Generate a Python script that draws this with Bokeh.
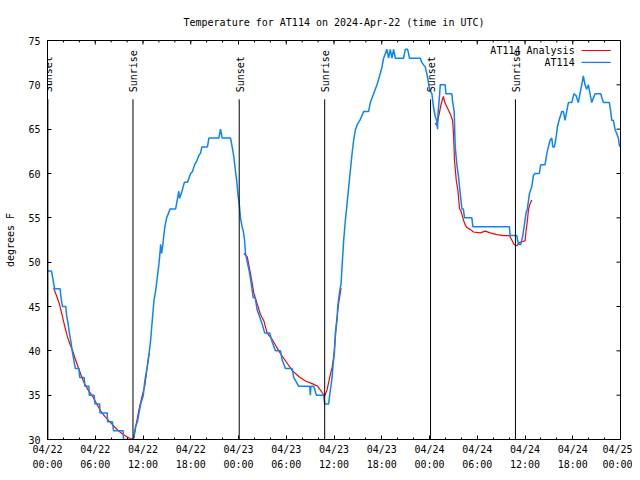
import math
from bokeh.plotting import figure
from bokeh.models import Range1d, FixedTicker, Label
from bokeh.embed import file_html
from bokeh.resources import INLINE

# ---------------- data ----------------
TITLE = "Temperature for AT114 on 2024-Apr-22 (time in UTC)"
Y_LABEL = "degrees F"
SERIES_NAMES = ["AT114 Analysis", "AT114"]

x_ticks = [0, 6, 12, 18, 24, 30, 36, 42, 48, 54, 60, 66, 72]
x_tick_labels = ["04/22\n00:00", "04/22\n06:00", "04/22\n12:00", "04/22\n18:00",
                 "04/23\n00:00", "04/23\n06:00", "04/23\n12:00", "04/23\n18:00",
                 "04/24\n00:00", "04/24\n06:00", "04/24\n12:00", "04/24\n18:00",
                 "04/25\n00:00"]
x_minor_ticks = [0, 2, 4, 6, 8, 10, 12, 14, 16, 18, 20, 22, 24, 26, 28, 30, 32, 34,
                 36, 38, 40, 42, 44, 46, 48, 50, 52, 54, 56, 58, 60, 62, 64, 66, 68, 70, 72]
y_ticks = [30, 35, 40, 45, 50, 55, 60, 65, 70, 75]

# observed AT114 (hours since 04/22 00:00 UTC, deg F)
obs_hours = [0.0, 0.5, 0.7, 0.9, 1.58, 1.7, 1.88, 2.3, 2.4, 2.6, 2.75, 2.95, 3.1, 3.3, 3.5, 3.95,
             4.05, 4.6, 4.7, 5.2, 5.25, 5.85, 5.97, 6.55, 6.6, 7.5, 7.55, 8.15, 8.3, 9.5, 9.55, 10.75,
             10.87, 11.08, 11.29, 11.5, 11.71, 12.04, 12.21, 12.55, 12.75, 12.96, 13.17, 13.38, 13.59,
             13.8, 14.0, 14.13, 14.22, 14.34, 14.42, 14.5, 14.55, 14.75, 14.97, 15.2, 15.39, 16.1,
             16.3, 16.5, 16.6, 16.72, 16.9, 17.2, 17.6, 17.98, 18.2, 18.5, 18.8, 19.0, 19.23, 19.4,
             20.1, 20.28, 21.53, 21.74, 21.95, 23.0, 23.2, 23.4, 23.6, 23.8, 23.95, 24.1, 24.25, 24.45,
             24.6, 24.76, 24.88, 25.1, 25.35, 25.6, 25.85, 26.1, 26.35, 26.6, 26.98, 27.3, 27.93,
             28.23, 28.64, 29.27, 29.48, 29.9, 30.74, 30.94, 31.57, 32.95, 33.03, 33.1, 33.45, 33.79,
             34.7, 34.83, 35.33, 35.46, 35.76, 35.88, 36.05, 36.17, 36.39, 36.47, 36.68, 36.89, 37.01,
             37.22, 37.43, 37.64, 37.85, 38.06, 38.27, 38.47, 38.68, 38.97, 39.31, 39.73, 40.35, 40.56,
             40.98, 41.4, 41.73, 42.03, 42.23, 42.65, 42.86, 43.07, 43.28, 43.49, 43.7, 44.74, 44.96,
             45.25, 45.5, 46.84, 47.05, 47.47, 47.68, 47.88, 48.0, 48.3, 48.5, 48.72, 48.9, 49.01,
             49.05, 49.26, 49.35, 49.97, 50.06, 50.81, 50.89, 51.1, 51.23, 51.44, 51.65, 51.86, 52.07,
             52.25, 52.4, 53.32, 53.45, 58.04, 58.13, 58.97, 59.17, 59.47, 59.72, 59.89, 60.14, 60.3,
             60.56, 60.85, 61.06, 61.27, 61.81, 61.98, 62.52, 62.74, 62.94, 63.15, 63.36, 63.49, 63.69,
             63.9, 64.07, 64.28, 64.62, 64.82, 65.03, 65.24, 65.45, 65.87, 66.16, 66.41, 66.7, 66.91,
             67.13, 67.33, 67.54, 67.75, 67.96, 68.17, 68.38, 68.59, 68.8, 69.51, 69.84, 70.6, 70.77,
             70.9, 71.1, 71.31, 71.52, 71.73, 71.9]
obs_temps = [49, 49, 48, 47, 47, 46, 45, 45, 44, 43, 42, 41, 40, 39, 38, 38,
             37, 37, 36, 36, 35, 35, 34, 34, 33, 33, 32, 32, 31, 31, 30, 30,
             30.5, 31.5, 32, 33, 34, 35, 36.5, 38.3, 39.6, 41.2, 43.5, 45.7, 46.8,
             48.3, 49.8, 51, 52, 51, 51.5, 52, 52.5, 54, 55, 55.5, 56, 56,
             57, 58, 57.2, 57.5, 58, 59, 59, 60, 60.2, 61, 61.5, 62, 62.3, 63,
             63, 64, 64, 65, 64, 64, 63, 62, 60.4, 59, 57.5, 56.5, 55, 54,
             53.5, 52.5, 51, 50, 49, 47.6, 46, 46, 44.6, 44, 43, 42, 42,
             41, 40, 40, 39, 38, 38, 37, 36, 36, 35, 36, 36, 35,
             35, 34, 34, 35, 37, 38.4, 39.75, 42, 43.5, 45, 46.5, 47.6, 49.5,
             52.5, 54.75, 56.6, 58.5, 60.4, 62.25, 63.75, 64.9, 65.6, 66.1, 67, 67, 68,
             69, 70, 71, 72, 73, 74, 73, 74, 73, 74, 73, 73, 74,
             74, 73, 73, 72.5, 72, 71.2, 70.2, 69.5, 69, 67.5, 66.4, 66, 65,
             66.5, 68.8, 70, 70, 69, 69, 68.2, 67, 63, 61, 59.6, 57.75, 56,
             56, 55, 55, 54, 54, 53, 53, 52, 52, 53, 54, 55.6, 56,
             57.75, 58.5, 59.8, 60, 60, 61, 61, 62.25, 63, 63.75, 64, 63, 63,
             64, 65.25, 66, 67, 67, 66, 67, 68, 68, 69, 68.8, 68, 69,
             70, 71, 70, 69.5, 70, 69, 68, 68.5, 69, 69, 68, 68, 67,
             66, 66, 65, 64.5, 64, 63]

# AT114 analysis, three overnight segments
ana1_hours = [0.77, 1.1, 1.46, 1.76, 2.1, 2.5, 2.8, 3.13, 3.4, 3.76, 4.2, 4.6, 5.1, 5.64, 6.2, 6.69,
              7.2, 7.73, 8.25, 8.78, 9.3, 9.82, 10.2, 10.66, 10.87, 11.08, 11.5, 11.92, 12.21, 12.55,
              12.75, 12.88]
ana1_temps = [47.1, 46.3, 45.4, 44.3, 43.0, 41.6, 40.8, 40.1, 39.3, 38.4, 37.3, 36.4, 35.6, 34.9, 34.0,
              33.2, 32.6, 32.1, 31.6, 31.1, 30.7, 30.4, 30.2, 30.0, 30.2, 31.4, 33.4, 35.0, 36.0, 38.3,
              39.6, 39.7]
ana2_hours = [24.67, 25.1, 25.5, 25.93, 26.35, 26.76, 27.18, 27.6, 28.23, 28.86, 29.48, 30.11, 30.74,
              31.57, 32.41, 33.25, 33.96, 34.5, 34.83, 35.13, 35.46, 35.76, 35.96, 36.17, 36.3, 36.59,
              36.89]
ana2_temps = [51.0, 50.6, 48.75, 46.5, 45.3, 44.1, 43.4, 42.0, 41.3, 40.3, 39.4, 38.6, 37.8, 37.1, 36.6,
              36.3, 36.0, 35.3, 34.9, 35.6, 37.0, 38.1, 39.3, 41.4, 43.2, 45.4, 47.1]
ana3_hours = [48.72, 48.93, 49.14, 49.26, 49.43, 49.64, 49.76, 49.89, 50.19, 50.6, 50.89, 51.02, 51.14,
              51.36, 51.57, 51.77, 51.98, 52.27, 52.48, 52.7, 53.11, 53.53, 54.37, 55.0, 55.62, 56.46,
              57.3, 58.04, 58.34, 58.63, 58.97, 59.3, 59.6, 60.01, 60.14, 60.31, 60.43, 60.64, 60.85]
ana3_temps = [65.7, 65.4, 66.4, 66.9, 67.7, 68.4, 68.7, 68.1, 67.5, 66.75, 66.0, 64.5, 61.5, 59.25, 58.1,
              56.06, 55.7, 54.75, 54.2, 53.9, 53.7, 53.4, 53.3, 53.5, 53.3, 53.1, 53.0, 53.0, 52.5, 52.0,
              51.85, 52.2, 52.3, 52.4, 53.6, 54.75, 55.9, 56.6, 57.0]

event_hours = [0.05, 10.74, 24.09, 34.83, 48.13, 58.80]
event_names = ["Sunset", "Sunrise", "Sunset", "Sunrise", "Sunset", "Sunrise"]

# ---------------- style ----------------
FONT = "DejaVu Sans Mono"
FS = "10px"
RED = "#ff0000"
BLUE = "#0a84ff"
X0, X1 = 0, 72
Y0, Y1 = 30, 75
FRAME_W, FRAME_H = 573, 400
MAJ, MIN = 4, 2  # inward tick lengths in px

p = figure(width=632, height=472, output_backend="svg", toolbar_location=None,
           x_range=Range1d(X0, X1), y_range=Range1d(Y0, Y1),
           min_border_left=47, min_border_right=12, min_border_top=40, min_border_bottom=32)
p.title.text = TITLE
p.title.align = "center"
p.title.text_font = FONT
p.title.text_font_size = FS
p.title.text_font_style = "normal"
p.title.text_color = "black"
p.title.standoff = 25
p.grid.visible = False
p.outline_line_color = "black"
p.background_fill_color = "white"
p.border_fill_color = "white"

xt = FixedTicker(ticks=x_ticks, minor_ticks=x_minor_ticks)
yt = FixedTicker(ticks=y_ticks)

for ax in (p.xaxis[0], p.yaxis[0]):
    ax.axis_line_color = "black"
    ax.major_tick_line_color = "black"
    ax.major_tick_in = MAJ
    ax.major_tick_out = 0
    ax.major_label_text_font = FONT
    ax.major_label_text_font_size = FS
    ax.major_label_text_color = "black"

xa = p.xaxis[0]
xa.ticker = xt
xa.major_label_overrides = {t: l for t, l in zip(x_ticks, x_tick_labels)}
xa.minor_tick_line_color = "black"
xa.minor_tick_in = MIN
xa.minor_tick_out = 0
xa.major_label_standoff = 4
xa.major_label_text_line_height = 1.4

ya = p.yaxis[0]
ya.ticker = yt
ya.minor_tick_line_color = None
ya.major_label_standoff = 7
ya.axis_label = Y_LABEL
ya.axis_label_text_font = FONT
ya.axis_label_text_font_size = FS
ya.axis_label_text_font_style = "normal"
ya.axis_label_text_color = "black"
ya.axis_label_standoff = 9

# mirrored ticks on top and right edges (gnuplot style)
dy_maj = MAJ * (Y1 - Y0) / FRAME_H
dy_min = MIN * (Y1 - Y0) / FRAME_H
dx_maj = MAJ * (X1 - X0) / FRAME_W
p.segment(x0=x_minor_ticks, y0=[Y1] * len(x_minor_ticks), x1=x_minor_ticks,
          y1=[Y1 - dy_min] * len(x_minor_ticks), line_color="black", line_width=1)
p.segment(x0=x_ticks, y0=[Y1] * len(x_ticks), x1=x_ticks,
          y1=[Y1 - dy_maj] * len(x_ticks), line_color="black", line_width=1)
p.segment(x0=[X1] * len(y_ticks), y0=y_ticks, x1=[X1 - dx_maj] * len(y_ticks), y1=y_ticks,
          line_color="black", line_width=1)

# data
p.multi_line(xs=[ana1_hours, ana2_hours, ana3_hours], ys=[ana1_temps, ana2_temps, ana3_temps],
             line_color=RED, line_width=1.2)
p.line(obs_hours, obs_temps, line_color=BLUE, line_width=1.5)

# sunrise / sunset markers
line_top = Y0 + 0.8525 * (Y1 - Y0)
label_y = Y0 + 0.87 * (Y1 - Y0)
p.segment(x0=event_hours, y0=[Y0] * len(event_hours), x1=event_hours, y1=[line_top] * len(event_hours),
          line_color="black", line_width=1)
for h, name in zip(event_hours, event_names):
    p.add_layout(Label(x=h, y=label_y, text=name, angle=math.pi / 2, text_align="left",
                       text_baseline="middle", x_offset=1, text_font=FONT, text_font_size=FS,
                       text_color="black", level="overlay"))

# key (gnuplot style: text then sample)
key_text_x = X0 + 0.92 * (X1 - X0)
key_s0 = X0 + 0.932 * (X1 - X0)
key_s1 = X0 + 0.983 * (X1 - X0)
key_rows = [Y0 + 0.975 * (Y1 - Y0), Y0 + 0.945 * (Y1 - Y0)]
for name, ky in zip(SERIES_NAMES, key_rows):
    p.add_layout(Label(x=key_text_x, y=ky, text=name, text_align="right", text_baseline="middle",
                       text_font=FONT, text_font_size=FS, text_color="black"))
p.segment(x0=[key_s0, key_s0], y0=key_rows, x1=[key_s1, key_s1], y1=key_rows,
          line_color=[RED, BLUE], line_width=1.2)

open("out.html", "w").write(file_html(p, INLINE))
